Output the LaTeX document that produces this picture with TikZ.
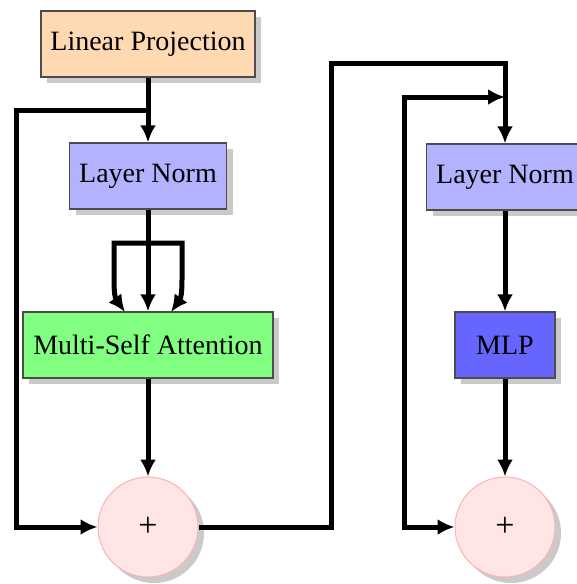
\documentclass[tikz,border=0pt]{standalone}
\usepackage{fontspec}
\setmainfont{Liberation Serif}
\usetikzlibrary{arrows.meta,shadows}
\begin{document}
\begin{tikzpicture}[x=1pt,y=-1pt,
  every node/.style={font=\fontsize{28}{33}\selectfont, text=black},
  block/.style={draw=black!70, line width=1.2pt, rectangle, inner sep=0pt,
    minimum height=66pt,
    drop shadow={shadow xshift=6pt, shadow yshift=-6pt, fill=black!35, opacity=0.6}},
  adder/.style={draw=red!30, line width=1pt, circle, fill=red!10, inner sep=0pt,
    minimum size=100pt,
    drop shadow={shadow xshift=6pt, shadow yshift=-6pt, fill=black!35, opacity=0.6}},
  wire/.style={line width=5pt, draw=black},
  tip/.tip={Latex[length=17pt,width=16pt]},
  arr/.style={wire, -tip},
  biarr/.style={wire, tip-tip}
]
\useasboundingbox (0,0) rectangle (576,584);

% blocks
\node[block, fill=orange!30, minimum width=214pt] (lp)   at (148,44)  {Linear Projection};
\node[block, fill=blue!30,   minimum width=157pt] (ln1)  at (148,176) {Layer Norm};
\node[block, fill=green!50,  minimum width=250pt] (msa)  at (148,345) {Multi-Self Attention};
\node[adder] (add1) at (148,527) {\fontsize{34}{34}\selectfont +};

\node[block, fill=blue!30,   minimum width=157pt] (ln2)  at (505,177) {Layer Norm};
\node[block, fill=blue!60,   minimum width=100pt] (mlp)  at (505,345) {MLP};
\node[adder] (add2) at (505,527) {\fontsize{34}{34}\selectfont +};

% junction and corner points
\coordinate (j1)  at (148,110);
\coordinate (s1a) at (16,110);
\coordinate (sp)  at (148,243);
\coordinate (spl) at (114,243);
\coordinate (spr) at (182,243);
\coordinate (c1)  at (331,527);
\coordinate (c2)  at (331,63);
\coordinate (j2)  at (505,97);
\coordinate (s2a) at (404,97);

% first branch
\draw[arr] (lp.south) -- (ln1.north);
\draw[arr] (j1) -- (s1a) |- (add1.west);
\draw[arr] (ln1.south) -- (msa.north);
\draw[arr] (sp) -- (spl) -- (114,280) .. controls (114,292) and (115,298) .. (125,312);
\draw[arr] (sp) -- (spr) -- (182,280) .. controls (182,292) and (181,298) .. (171,312);
\draw[arr] (msa.south) -- (add1.north);

% link between the two branches
\draw[arr] (add1.east) -- (c1) -- (c2) -| (ln2.north);

% second branch
\draw[biarr] (j2) -- (s2a) |- (add2.west);
\draw[arr] (ln2.south) -- (mlp.north);
\draw[arr] (mlp.south) -- (add2.north);
\end{tikzpicture}
\end{document}
